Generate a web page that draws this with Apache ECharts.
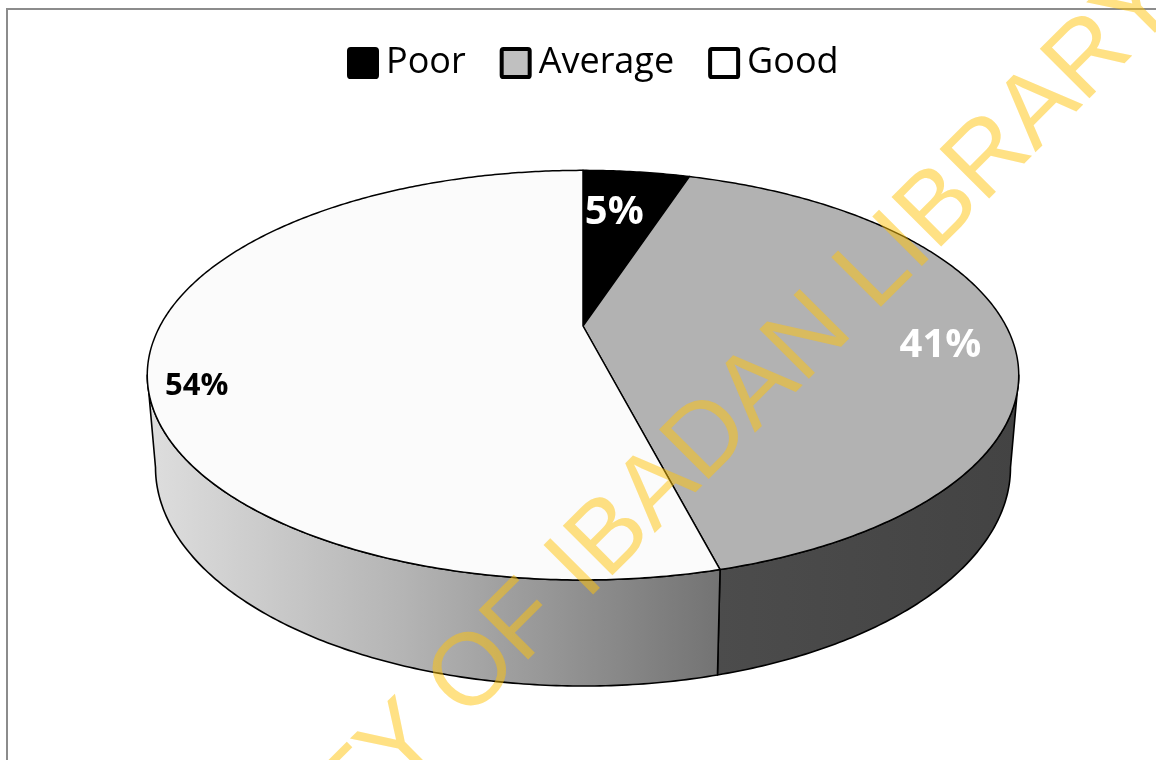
<!DOCTYPE html>
<html>
<head>
<meta charset="utf-8">
<script src="https://cdn.jsdelivr.net/npm/echarts@6/dist/echarts.min.js"></script>
<style>
  html, body { margin: 0; padding: 0; background: #ffffff; }
  #chart { width: 1156px; height: 760px; }
</style>
</head>
<body>
<div id="chart"></div>
<script>
// Rating shares (percent)
const categories = ['Poor', 'Average', 'Good'];
const shares = [5, 41, 54];

// Face colours of each slice
const topColors = ['#000000', '#b2b2b2', '#fbfbfb'];
const legendColors = ['#000000', '#c0c0c0', '#ffffff'];
const labelColors = ['#ffffff', '#ffffff', '#000000'];

// Tilted-disc projection (simple perspective)
const G = {
  cx: 583, k: 0.24,
  top: { A: 423, B: 193, cy: 326 },
  bot: { A: 415, B: 206, cy: 415 }
};
// label placement on the top face: radius fraction and pixel nudge
const labelPlace = [
  { r: 0.69, dx: -8, dy: 0, size: 40 },
  { r: 0.84, dx: 0, dy: 14, size: 40 },
  { r: 0.90, dx: 2, dy: 38, size: 31 }
];

const total = shares.reduce((a, b) => a + b, 0);
const starts = [];
shares.reduce((acc, v, i) => { starts[i] = acc; return acc + v; }, 0);

function proj(face, theta, r) {
  const X = r * Math.sin(theta), Z = r * Math.cos(theta);
  const w = 1 + G.k * Z;
  return [G.cx + face.A * X / w, face.cy - face.B * Z / w];
}
function arc(face, a0, a1) {
  const pts = [];
  const n = Math.max(2, Math.ceil(Math.abs(a1 - a0) / 0.01));
  for (let i = 0; i <= n; i++) pts.push(proj(face, a0 + (a1 - a0) * i / n, 1));
  return pts;
}

// visible front wall lies between the silhouette angles
const thR = Math.acos(-G.k);
const thL = 2 * Math.PI - thR;
const leftX = proj(G.top, thL, 1)[0];
const frontX = proj(G.top, (starts[2] / total) * 2 * Math.PI, 1)[0];

const wallFills = [
  '#1a1a1a',
  { type: 'linear', x: 0, y: 0, x2: 1, y2: 0, colorStops: [
      { offset: 0, color: '#4c4c4c' }, { offset: 1, color: '#434343' }] },
  { type: 'linear', x: leftX, y: 0, x2: frontX, y2: 0, global: true, colorStops: [
      { offset: 0, color: '#dedede' }, { offset: 0.45, color: '#b4b4b4' }, { offset: 1, color: '#737373' }] }
];

function makeRender(idx) {
  return function (params, api) {
    const v = api.value(0);
    const a0 = (starts[idx] / total) * 2 * Math.PI;
    const a1 = ((starts[idx] + v) / total) * 2 * Math.PI;
    const children = [];
    // outer wall
    const w0 = Math.max(a0, thR), w1 = Math.min(a1, thL);
    if (w1 > w0) {
      const pts = arc(G.top, w0, w1).concat(arc(G.bot, w0, w1).reverse());
      children.push({
        type: 'polygon', shape: { points: pts },
        style: { fill: wallFills[idx], stroke: '#000', lineWidth: 1.6, lineJoin: 'round' }
      });
    }
    // top face
    const topPts = [[G.cx, G.top.cy]].concat(arc(G.top, a0, a1));
    children.push({
      type: 'polygon', shape: { points: topPts },
      style: { fill: topColors[idx], stroke: idx === 0 ? topColors[idx] : '#000', lineWidth: 1.5, lineJoin: 'round' }
    });
    // value label
    const lp = labelPlace[idx];
    const p = proj(G.top, (a0 + a1) / 2, lp.r);
    children.push({
      type: 'text', z2: 10,
      x: p[0] + lp.dx, y: p[1] + lp.dy,
      style: {
        text: v + '%', fill: labelColors[idx],
        font: 'bold ' + lp.size + 'px "Open Sans", sans-serif',
        align: 'center', verticalAlign: 'middle'
      }
    });
    return { type: 'group', children: children };
  };
}

const squareIcon = 'path://M2,0H28A2,2 0 0 1 30,2V28A2,2 0 0 1 28,30H2A2,2 0 0 1 0,28V2A2,2 0 0 1 2,0Z';

const chart = echarts.init(document.getElementById('chart'), null, { renderer: 'canvas' });
chart.setOption({
  animation: false,
  backgroundColor: '#ffffff',
  legend: {
    left: 342, top: 40,
    itemWidth: 28, itemHeight: 28, itemGap: 34,
    icon: squareIcon,
    selectedMode: false,
    textStyle: { fontFamily: 'Open Sans', fontSize: 36, lineHeight: 36, color: '#000', padding: [0, 0, 0, 4] },
    data: categories.map((c, i) => ({
      name: c,
      itemStyle: { color: legendColors[i], borderColor: '#000', borderWidth: 4 }
    }))
  },
  series: categories.map((c, i) => ({
    type: 'custom',
    name: c,
    coordinateSystem: 'none',
    itemStyle: { color: legendColors[i] },
    renderItem: makeRender(i),
    data: [{ value: shares[i] }]
  })),
  graphic: [
    {
      type: 'rect', silent: true, z: 0,
      shape: { x: 7, y: 9, width: 1300, height: 900 },
      style: { fill: 'none', stroke: '#8c8c8c', lineWidth: 2 }
    },
    {
      type: 'text', silent: true, z: 100,
      x: 578, y: 570, rotation: Math.PI / 4,
      style: {
        text: 'UNIVERSITY OF IBADAN LIBRARY',
        font: '102px "Liberation Sans", Arial, sans-serif',
        fill: 'rgba(255, 195, 10, 0.5)',
        align: 'center', verticalAlign: 'middle'
      }
    }
  ]
});
</script>
</body>
</html>
